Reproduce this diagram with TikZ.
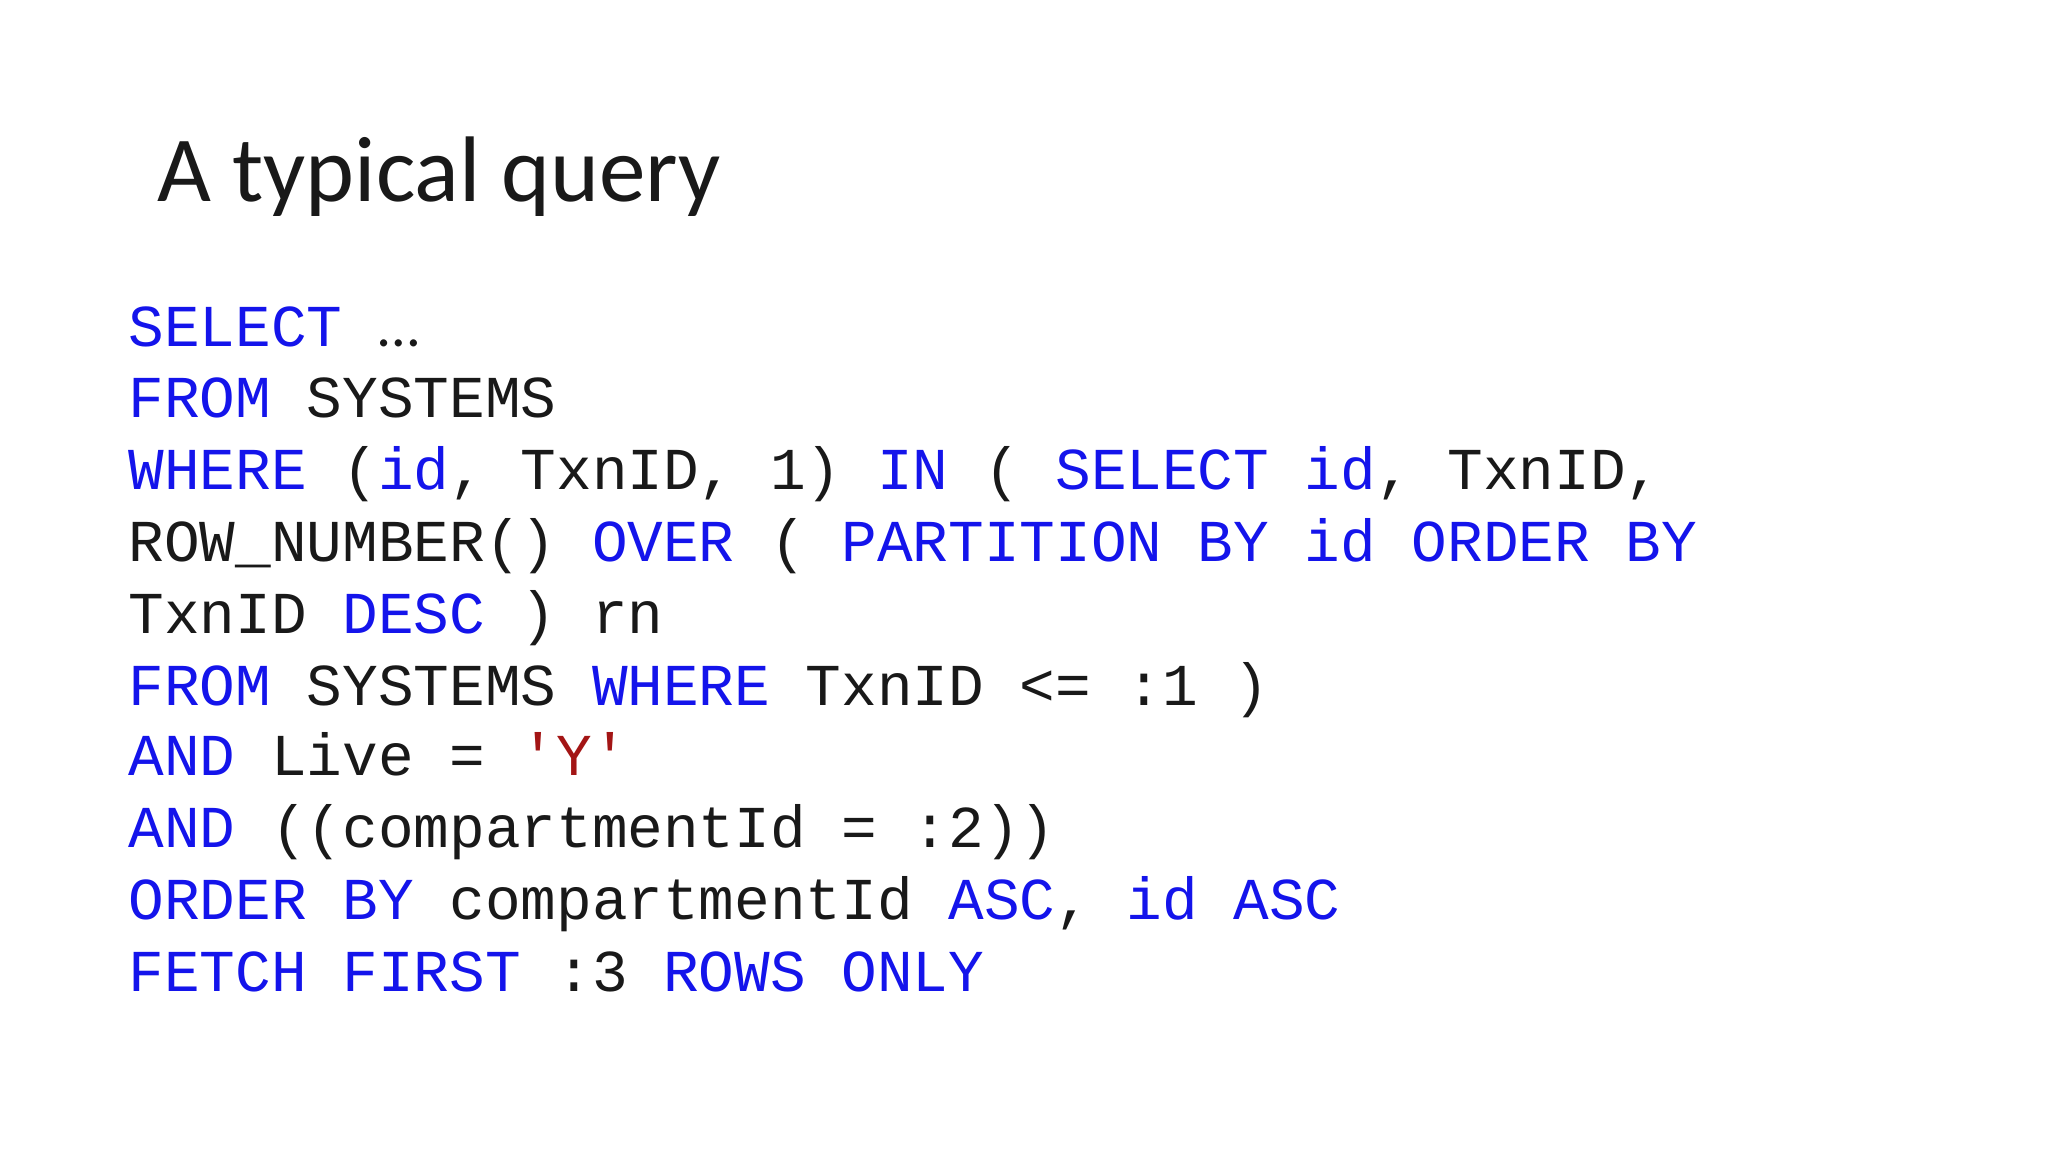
\documentclass[tikz,border=0pt]{standalone}
\usepackage{fontspec}
\setmainfont{Carlito}
\setmonofont{Liberation Mono}
\definecolor{kw}{RGB}{20,20,235}
\definecolor{str}{RGB}{163,21,21}
\definecolor{txt}{RGB}{25,25,25}
\newcommand{\K}[1]{\textcolor{kw}{#1}}
\newcommand{\Sq}[1]{\textcolor{str}{#1}}
\tikzset{codeline/.style={anchor=base west,inner sep=0pt,text=txt,font=\fontsize{16.9pt}{20pt}\ttfamily}}
\begin{document}
\begin{tikzpicture}[x=0.01306cm,y=-0.01306cm]
\useasboundingbox[fill=white] (0,0) rectangle (1568,882);
\node[anchor=base west,inner sep=0pt,text=txt,font=\fontsize{26.5pt}{32pt}\selectfont] (title) at (120,154) {A typical query};
\node[codeline] (l1) at (98,265) {\K{SELECT} {\rmfamily …}};
\node[codeline] (l2) at (98,320) {\K{FROM} SYSTEMS};
\node[codeline] (l3) at (98,375) {\K{WHERE} (\K{id}, TxnID, 1) \K{IN} ( \K{SELECT} \K{id}, TxnID,};
\node[codeline] (l4) at (98,430) {ROW\_NUMBER() \K{OVER} ( \K{PARTITION BY} \K{id} \K{ORDER BY}};
\node[codeline] (l5) at (98,485) {TxnID \K{DESC} ) rn};
\node[codeline] (l6) at (98,540) {\K{FROM} SYSTEMS \K{WHERE} TxnID <= :1 )};
\node[codeline] (l7) at (98,594) {\K{AND} Live = \Sq{'Y'}};
\node[codeline] (l8) at (98,649) {\K{AND} ((compartmentId = :2))};
\node[codeline] (l9) at (98,704) {\K{ORDER BY} compartmentId \K{ASC}, \K{id} \K{ASC}};
\node[codeline] (l10) at (98,759) {\K{FETCH FIRST} :3 \K{ROWS ONLY}};
\end{tikzpicture}
\end{document}
